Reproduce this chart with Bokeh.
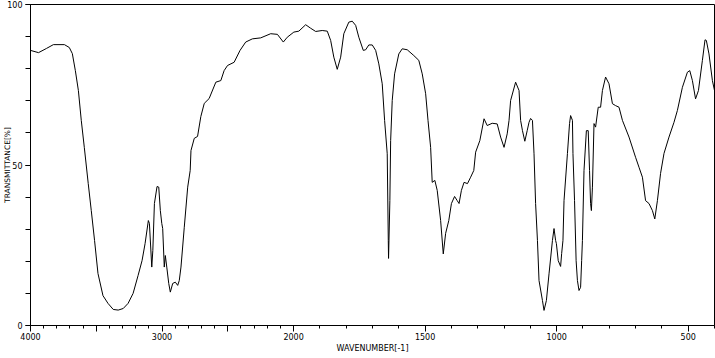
from bokeh.plotting import figure
from bokeh.models import Range1d, FixedTicker
from bokeh.embed import file_html
from bokeh.resources import INLINE

# IR spectrum
wavenumber = [4000, 3939, 3879, 3826, 3742, 3705, 3682, 3659, 3636, 3614, 3591, 3561, 3538, 3513, 3487,
              3449, 3411, 3371, 3333, 3295, 3258, 3220, 3182, 3152, 3129, 3104, 3096, 3078, 3070, 3058,
              3038, 3025, 3013, 3002, 2995, 2983, 2975, 2964, 2949, 2937, 2919, 2899, 2881, 2869, 2856,
              2831, 2805, 2786, 2780, 2755, 2730, 2705, 2679, 2642, 2591, 2553, 2528, 2502, 2452, 2407,
              2364, 2313, 2250, 2174, 2123, 2078, 2048, 1999, 1980, 1954, 1935, 1916, 1891, 1872, 1859,
              1847, 1834, 1821, 1809, 1790, 1777, 1764, 1752, 1735, 1726, 1714, 1701, 1688, 1676, 1663,
              1654, 1644, 1640, 1639, 1634, 1631, 1625, 1616, 1600, 1587, 1568, 1543, 1524, 1511, 1498,
              1489, 1479, 1473, 1463, 1454, 1441, 1431, 1422, 1410, 1400, 1388, 1378, 1371, 1362, 1352,
              1339, 1327, 1315, 1308, 1292, 1276, 1264, 1245, 1226, 1213, 1200, 1188, 1181, 1175, 1156,
              1143, 1137, 1130, 1121, 1112, 1105, 1099, 1092, 1086, 1080, 1073, 1067, 1054, 1048, 1039,
              1029, 1016, 1010, 1004, 1001, 994, 985, 981, 976, 972, 959, 951, 947, 940, 938,
              932, 926, 921, 915, 909, 905, 902, 896, 887, 880, 875, 871, 868, 864, 858,
              852, 842, 833, 826, 814, 801, 788, 776, 763, 750, 725, 700, 687, 674, 662,
              649, 636, 627, 617, 605, 592, 573, 554, 541, 522, 503, 494, 484, 472, 461,
              446, 436, 431, 421, 408, 400]
transmittance = [85.7, 85.0, 86.3, 87.5, 87.5, 86.6, 84.7, 79.4, 73.2, 63.9, 55.5, 44.2, 35.8, 26.5, 16.2,
                 9.3, 6.9, 5.0, 4.8, 5.3, 6.9, 10.0, 15.6, 20.2, 25.5, 32.7, 31.8, 18.2, 23.4, 38.0,
                 43.3, 43.1, 35.8, 31.8, 30.2, 18.2, 21.8, 18.2, 13.1, 10.4, 13.1, 13.5, 12.5, 14.0, 18.2,
                 30.6, 43.1, 48.3, 54.5, 58.3, 58.9, 65.1, 69.2, 70.7, 75.8, 76.3, 79.4, 81.0, 82.0, 85.7,
                 88.3, 89.3, 89.6, 90.9, 90.7, 88.3, 89.8, 91.4, 91.7, 93.7, 92.6, 91.6, 91.9, 91.7, 88.8,
                 83.6, 79.8, 83.6, 90.9, 94.5, 94.8, 93.5, 89.8, 85.7, 85.9, 87.4, 87.4, 85.7, 81.5, 75.3,
                 63.9, 53.5, 26.5, 20.9, 38.9, 57.6, 70.1, 78.4, 84.6, 86.2, 85.9, 84.1, 82.6, 78.4, 72.2,
                 63.9, 55.5, 44.6, 45.2, 42.1, 32.7, 22.3, 28.7, 32.7, 38.0, 40.2, 38.9, 38.0, 42.1, 44.6,
                 44.2, 46.2, 48.3, 54.0, 57.6, 64.4, 62.3, 63.0, 62.8, 58.7, 55.5, 59.7, 63.9, 70.1, 75.8,
                 73.2, 63.9, 60.7, 57.4, 60.7, 63.3, 64.5, 63.9, 53.5, 38.0, 26.5, 14.0, 7.8, 4.7, 7.8,
                 16.1, 26.5, 30.2, 26.5, 25.5, 20.2, 18.4, 22.4, 26.5, 38.9, 53.6, 62.9, 65.4, 63.9, 53.6,
                 38.9, 20.2, 14.0, 10.9, 11.9, 20.2, 26.5, 48.3, 60.7, 60.7, 48.3, 38.0, 35.8, 43.1, 62.9,
                 61.8, 68.0, 68.0, 73.2, 77.4, 75.3, 69.1, 68.5, 68.0, 63.9, 58.7, 52.4, 49.3, 46.2, 38.9,
                 38.0, 35.8, 33.2, 38.9, 47.4, 53.6, 58.7, 63.3, 67.0, 74.2, 78.9, 79.4, 76.3, 70.6, 73.2,
                 82.6, 89.0, 88.8, 84.6, 76.3, 73.2]

x_major = [4000, 3500, 3000, 2500, 2000, 1500, 1000, 500]
x_labels = ["4000", "", "3000", "", "2000", "1500", "1000", "500"]
x_minor = list(range(4000, 399, -100))
y_major = [0, 50, 100]
y_labels = ["0", "50", "100"]
y_minor = list(range(0, 101, 10))


def axis_pos(w):
    # scale changes at 2000 cm-1 (4000-2000 compressed by half)
    return (4000 - w) / 2 if w >= 2000 else 1000 + (2000 - w)


xs = [axis_pos(w) for w in wavenumber]

p = figure(width=715, height=358, output_backend="svg", toolbar_location=None,
           x_range=Range1d(axis_pos(4000), axis_pos(400)), y_range=Range1d(0, 100),
           min_border_left=29, min_border_right=1, min_border_top=4, min_border_bottom=33)
p.line(xs, transmittance, line_color="black", line_width=1)

p.grid.visible = False
p.outline_line_color = "black"
p.outline_line_width = 1
p.background_fill_color = "white"
p.border_fill_color = "white"

font = "DejaVu Sans"
p.xaxis.ticker = FixedTicker(ticks=[axis_pos(w) for w in x_major],
                             minor_ticks=[axis_pos(w) for w in x_minor])
p.xaxis.major_label_overrides = {axis_pos(w): lab for w, lab in zip(x_major, x_labels)}
p.xaxis.axis_label = "WAVENUMBER[-1]"
p.yaxis.ticker = FixedTicker(ticks=y_major, minor_ticks=y_minor)
p.yaxis.major_label_overrides = {v: lab for v, lab in zip(y_major, y_labels)}
p.yaxis.axis_label = "TRANSMITTANCE[%]"

for ax in (p.xaxis, p.yaxis):
    ax.axis_line_color = "black"
    ax.major_tick_line_color = "black"
    ax.minor_tick_line_color = "black"
    ax.major_tick_in = 0
    ax.minor_tick_in = 0
    ax.major_label_text_font = font
    ax.major_label_text_font_size = "8px"
    ax.major_label_text_color = "black"
    ax.axis_label_text_font = font
    ax.axis_label_text_font_size = "8px"
    ax.axis_label_text_font_style = "normal"
    ax.axis_label_text_color = "black"
    ax.major_label_standoff = 1
    ax.axis_label_standoff = 1

p.xaxis.major_tick_out = 6
p.xaxis.minor_tick_out = 3
p.yaxis.major_tick_out = 5
p.yaxis.minor_tick_out = 5
p.yaxis.major_label_standoff = 3
p.yaxis.axis_label_text_font_size = "7.5px"
p.yaxis.axis_label_standoff = -8

open("out.html", "w").write(file_html(p, INLINE))
